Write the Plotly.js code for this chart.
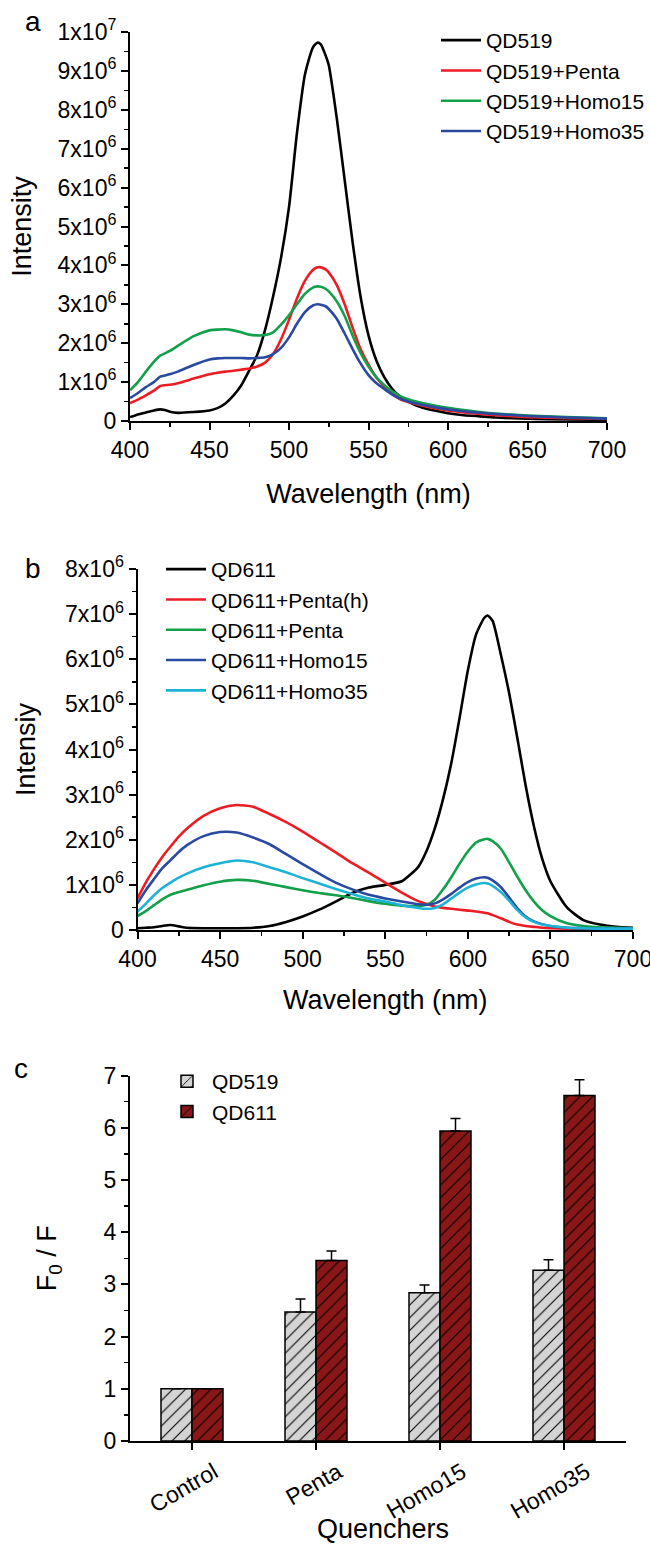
<!DOCTYPE html>
<html>
<head>
<meta charset="utf-8">
<script src="https://cdn.plot.ly/plotly-3.0.1.min.js"></script>
<style>
html,body{margin:0;padding:0;background:#fff;overflow:hidden;}
#chart{width:650px;height:1546px;}
</style>
</head>
<body>
<div id="chart"></div>
<script>
// ---------- Panel a: QD519 emission spectra (intensity in units of 1e6) ----------
const wlA = [400,405,410,415,419,422,425,430,440,450,455,460,465,470,475,480,485,490,495,500,505,510,515,518,520,523,525,530,535,540,545,550,555,560,565,570,575,580,590,600,610,620,630,650,675,700];
const qd519 = [0.10,0.17,0.22,0.27,0.30,0.28,0.24,0.21,0.23,0.27,0.33,0.45,0.65,0.92,1.30,1.70,2.35,3.20,4.20,5.50,7.40,8.90,9.60,9.73,9.68,9.40,9.15,7.80,6.20,4.60,3.20,2.20,1.55,1.12,0.82,0.62,0.50,0.40,0.28,0.20,0.15,0.12,0.09,0.06,0.04,0.03];
const qd519Penta = [0.46,0.55,0.66,0.78,0.90,0.92,0.93,0.97,1.09,1.20,1.24,1.27,1.29,1.32,1.35,1.40,1.50,1.72,2.10,2.60,3.15,3.60,3.88,3.95,3.95,3.90,3.82,3.50,3.00,2.40,1.85,1.45,1.12,0.88,0.70,0.56,0.49,0.43,0.34,0.27,0.22,0.18,0.15,0.10,0.07,0.05];
const qd519Homo15 = [0.79,1.00,1.27,1.52,1.68,1.74,1.80,1.93,2.18,2.33,2.35,2.36,2.33,2.28,2.22,2.20,2.21,2.28,2.48,2.72,3.00,3.27,3.43,3.46,3.45,3.40,3.33,3.08,2.70,2.20,1.75,1.40,1.12,0.92,0.76,0.64,0.56,0.50,0.41,0.34,0.28,0.23,0.19,0.14,0.10,0.07];
const qd519Homo35 = [0.59,0.72,0.87,1.00,1.14,1.17,1.20,1.27,1.44,1.58,1.61,1.62,1.62,1.62,1.61,1.62,1.64,1.72,1.88,2.15,2.50,2.80,2.97,3.00,2.99,2.95,2.88,2.63,2.25,1.85,1.48,1.18,0.97,0.82,0.68,0.57,0.50,0.45,0.37,0.30,0.25,0.21,0.18,0.13,0.09,0.06];

// ---------- Panel b: QD611 emission spectra (intensity in units of 1e6) ----------
const wlB = [400,405,410,415,420,425,430,440,450,460,470,480,490,500,510,520,530,540,550,560,570,575,580,585,590,595,600,605,610,612,615,620,625,630,635,640,645,650,660,670,680,690,700];
const qd611 = [0.04,0.05,0.06,0.09,0.11,0.08,0.05,0.04,0.04,0.04,0.05,0.09,0.18,0.30,0.45,0.63,0.82,0.94,1.00,1.08,1.40,1.75,2.25,2.90,3.70,4.70,5.75,6.55,6.92,6.97,6.85,6.10,5.25,4.25,3.20,2.30,1.58,1.08,0.50,0.22,0.12,0.07,0.05];
const qd611PentaH = [0.70,1.05,1.35,1.62,1.85,2.07,2.25,2.53,2.70,2.77,2.73,2.57,2.39,2.18,1.95,1.72,1.48,1.27,1.05,0.83,0.64,0.58,0.52,0.49,0.47,0.45,0.43,0.41,0.38,0.37,0.33,0.26,0.18,0.12,0.09,0.07,0.05,0.04,0.03,0.02,0.02,0.02,0.02];
const qd611Penta = [0.31,0.42,0.55,0.68,0.78,0.84,0.89,0.99,1.07,1.11,1.09,1.02,0.95,0.88,0.82,0.77,0.71,0.64,0.58,0.54,0.53,0.56,0.67,0.90,1.17,1.47,1.74,1.94,2.01,2.02,1.97,1.80,1.50,1.18,0.88,0.63,0.44,0.31,0.15,0.09,0.06,0.05,0.04];
const qd611Homo15 = [0.59,0.88,1.13,1.37,1.55,1.73,1.88,2.08,2.17,2.16,2.05,1.90,1.68,1.46,1.25,1.05,0.90,0.78,0.70,0.63,0.57,0.56,0.59,0.68,0.80,0.94,1.06,1.14,1.17,1.16,1.10,0.95,0.72,0.48,0.30,0.19,0.13,0.09,0.05,0.04,0.03,0.03,0.03];
const qd611Homo35 = [0.41,0.58,0.77,0.93,1.05,1.16,1.25,1.39,1.48,1.54,1.50,1.39,1.28,1.15,1.03,0.91,0.80,0.70,0.63,0.55,0.49,0.47,0.49,0.57,0.70,0.83,0.94,1.01,1.04,1.03,0.98,0.84,0.65,0.44,0.28,0.18,0.12,0.09,0.05,0.04,0.03,0.03,0.03];

// ---------- Panel c: F0/F quenching ratios ----------
const quenchers = ['Control','Penta','Homo15','Homo35'];
const f519 = [1.00,2.47,2.84,3.27];
const f519Err = [0,0.25,0.15,0.20];
const f611 = [1.00,3.46,5.94,6.62];
const f611Err = [0,0.18,0.24,0.30];

// ---------- Tick labels ----------
const tickValsA = [0,1,2,3,4,5,6,7,8,9,10];
const tickTextA = ['0','1x10<sup>6</sup>','2x10<sup>6</sup>','3x10<sup>6</sup>','4x10<sup>6</sup>','5x10<sup>6</sup>','6x10<sup>6</sup>','7x10<sup>6</sup>','8x10<sup>6</sup>','9x10<sup>6</sup>','1x10<sup>7</sup>'];
const tickValsB = [0,1,2,3,4,5,6,7,8];
const tickTextB = ['0','1x10<sup>6</sup>','2x10<sup>6</sup>','3x10<sup>6</sup>','4x10<sup>6</sup>','5x10<sup>6</sup>','6x10<sup>6</sup>','7x10<sup>6</sup>','8x10<sup>6</sup>'];
const wlTicks = [400,450,500,550,600,650,700];
const wlMinor = [425,475,525,575,625,675];

const E6 = 1e6;
const scale = arr => arr.map(v => v * E6);

const FONT = 'Liberation Sans, Arial, sans-serif';
const TICKFONT = {family: FONT, size: 23, color: '#000'};
const TITLEFONT = {family: FONT, size: 27, color: '#000'};
const LEGFONT = {family: FONT, size: 21, color: '#000'};
const LW = 2.6;

function lineTrace(x, y, name, color, xa, ya, legend) {
  return {x: x, y: scale(y), name: name, type: 'scatter', mode: 'lines',
    line: {color: color, width: LW, shape: 'spline', smoothing: 0.6},
    xaxis: xa, yaxis: ya, legend: legend};
}

const data = [
  lineTrace(wlA, qd519, 'QD519', '#000000', 'x', 'y', 'legend'),
  lineTrace(wlA, qd519Penta, 'QD519+Penta', '#ED1C24', 'x', 'y', 'legend'),
  lineTrace(wlA, qd519Homo15, 'QD519+Homo15', '#12A04A', 'x', 'y', 'legend'),
  lineTrace(wlA, qd519Homo35, 'QD519+Homo35', '#2A4AA0', 'x', 'y', 'legend'),

  lineTrace(wlB, qd611, 'QD611', '#000000', 'x2', 'y2', 'legend2'),
  lineTrace(wlB, qd611PentaH, 'QD611+Penta(h)', '#ED1C24', 'x2', 'y2', 'legend2'),
  lineTrace(wlB, qd611Penta, 'QD611+Penta', '#12A04A', 'x2', 'y2', 'legend2'),
  lineTrace(wlB, qd611Homo15, 'QD611+Homo15', '#2A4AA0', 'x2', 'y2', 'legend2'),
  lineTrace(wlB, qd611Homo35, 'QD611+Homo35', '#1DB3D6', 'x2', 'y2', 'legend2'),

  {x: quenchers, y: f519, name: 'QD519', type: 'bar', xaxis: 'x3', yaxis: 'y3', legend: 'legend3',
    marker: {color: '#D4D4D4', line: {color: '#000', width: 1.5},
      pattern: {shape: '/', fgcolor: '#000', bgcolor: '#D4D4D4', size: 9, solidity: 0.12}},
    error_y: {type: 'data', symmetric: false, array: f519Err, arrayminus: [0,0,0,0], color: '#000', thickness: 1.5, width: 5}},
  {x: quenchers, y: f611, name: 'QD611', type: 'bar', xaxis: 'x3', yaxis: 'y3', legend: 'legend3',
    marker: {color: '#8A1717', line: {color: '#000', width: 1.5},
      pattern: {shape: '/', fgcolor: '#000', bgcolor: '#8A1717', size: 9, solidity: 0.12}},
    error_y: {type: 'data', symmetric: false, array: f611Err, arrayminus: [0,0,0,0], color: '#000', thickness: 1.5, width: 5}}
];

const H = 1546, W = 650;
const px = v => v / W;
const py = v => 1 - v / H;

function axisBase(domain, anchor, titleText, standoff, extra) {
  const ax = {
    domain: domain, anchor: anchor,
    showline: true, linecolor: '#000', linewidth: 2,
    ticks: 'outside', ticklen: 7, tickwidth: 2, tickcolor: '#000',
    showgrid: false, zeroline: false,
    tickfont: TICKFONT, ticklabeloverflow: 'allow',
    title: {text: titleText, font: TITLEFONT}
  };
  if (standoff !== null) ax.title.standoff = standoff;
  return Object.assign(ax, extra || {});
}
const minorTicks = extra => Object.assign({ticklen: 4, tickwidth: 1.5, tickcolor: '#000', ticks: 'outside'}, extra);

const layout = {
  width: W, height: H,
  margin: {l: 0, r: 0, t: 0, b: 0, autoexpand: false},
  paper_bgcolor: '#fff', plot_bgcolor: '#fff',
  font: {family: FONT, color: '#000'},
  barmode: 'group', bargap: 0.5, bargroupgap: 0,

  xaxis: axisBase([px(130), px(607)], 'y', 'Wavelength (nm)', 23, {
    range: [400, 700], tickvals: wlTicks, minor: minorTicks({tickvals: wlMinor})
  }),
  yaxis: axisBase([py(421), py(32)], 'x', 'Intensity', 18, {
    range: [0, 1e7], tickvals: tickValsA.map(v => v * E6), ticktext: tickTextA,
    minor: minorTicks({dtick: 0.5e6})
  }),

  xaxis2: axisBase([px(137.5), px(633)], 'y2', 'Wavelength (nm)', 20, {
    range: [400, 700], tickvals: wlTicks, minor: minorTicks({tickvals: wlMinor})
  }),
  yaxis2: axisBase([py(930), py(569)], 'x2', 'Intensiy', 22, {
    range: [0, 8e6], tickvals: tickValsB.map(v => v * E6), ticktext: tickTextB,
    minor: minorTicks({dtick: 0.5e6})
  }),

  xaxis3: axisBase([px(130), px(626)], 'y3', '', null, {
    type: 'category', range: [-0.5, 3.5], tickangle: -30, ticklabelshift: 22
  }),
  yaxis3: axisBase([py(1441), py(1075.6)], 'x3', 'F<sub>0</sub> / F', 39, {
    range: [0, 7], dtick: 1, minor: minorTicks({dtick: 0.5}), automargin: true
  }),

  legend: {x: px(436), y: py(20), xanchor: 'left', yanchor: 'top', bgcolor: 'rgba(0,0,0,0)',
    font: LEGFONT, tracegroupgap: 0, itemwidth: 40},
  legend2: {x: px(161), y: py(549), xanchor: 'left', yanchor: 'top', bgcolor: 'rgba(0,0,0,0)',
    font: LEGFONT, tracegroupgap: 0, itemwidth: 40},
  legend3: {x: px(162), y: py(1061), xanchor: 'left', yanchor: 'top', bgcolor: 'rgba(0,0,0,0)',
    font: LEGFONT, tracegroupgap: 0, itemwidth: 40},

  annotations: [
    {text: 'a', x: px(33), y: py(22), xref: 'paper', yref: 'paper', xanchor: 'center', yanchor: 'middle', showarrow: false, font: {family: FONT, size: 28, color: '#000'}},
    {text: 'b', x: px(33), y: py(568), xref: 'paper', yref: 'paper', xanchor: 'center', yanchor: 'middle', showarrow: false, font: {family: FONT, size: 28, color: '#000'}},
    {text: 'c', x: px(21), y: py(1068), xref: 'paper', yref: 'paper', xanchor: 'center', yanchor: 'middle', showarrow: false, font: {family: FONT, size: 28, color: '#000'}},
    // x-axis title of panel c, anchored to the bottom edge of the figure
    {text: 'Quenchers', x: px(383), y: 0, xref: 'paper', yref: 'paper', xanchor: 'center', yanchor: 'bottom', yshift: 0, showarrow: false, font: TITLEFONT}
  ]
};

Plotly.newPlot('chart', data, layout, {staticPlot: true, displayModeBar: false});
</script>
</body>
</html>
